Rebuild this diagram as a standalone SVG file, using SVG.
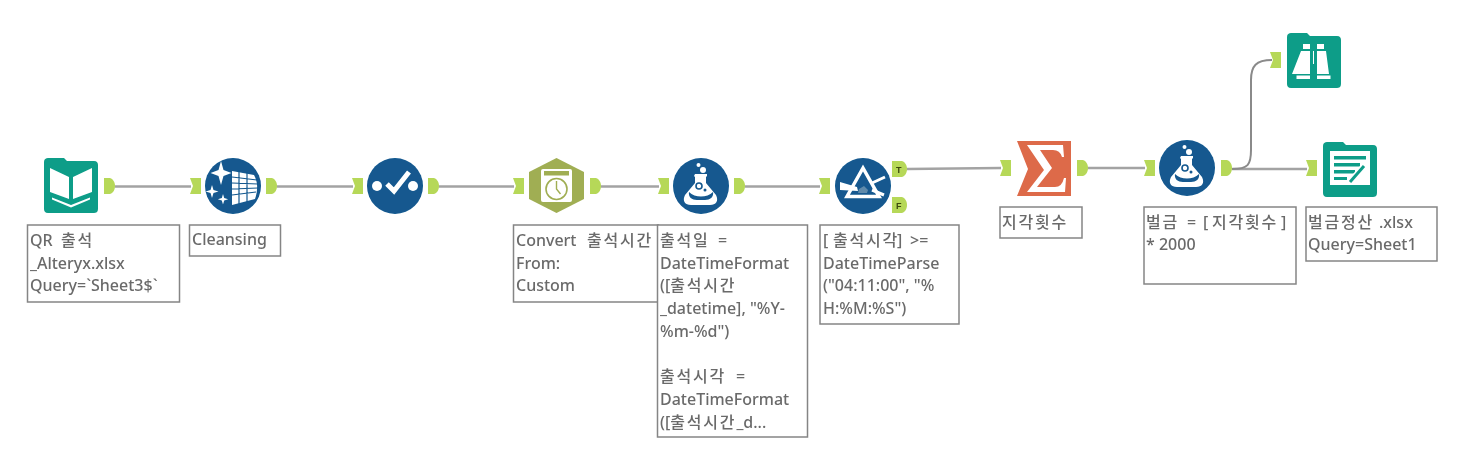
<svg xmlns="http://www.w3.org/2000/svg" width="1477" height="465" viewBox="0 0 1477 465">
<style>
.lb{fill:#fff;stroke:#858585;stroke-width:1.500}
.t{font-family:"Noto Sans","Noto Sans CJK KR",sans-serif;font-size:16px;font-weight:500;fill:#6a6a6a}
.k{letter-spacing:1.800px}
.c{fill:none;stroke:#a3a3a3;stroke-width:2.6}
.c2{fill:none;stroke:#8a8a8a;stroke-width:2}
.a{fill:#b6d858}
.blue{fill:#12588f}
.teal{fill:#0b9d88}
.w{fill:#fff}
.ws{fill:none;stroke:#fff;stroke-width:3}
.af{font-family:"Liberation Sans",sans-serif;font-size:9px;font-weight:700;fill:#3c4a10}
</style>
<defs>
<filter id="soft" filterUnits="userSpaceOnUse" x="0" y="0" width="1477" height="465"><feGaussianBlur stdDeviation="0.4"/></filter>
<path id="o" class="a" d="M0 0h6c3 1 5 4 5 8s-2 7-5 8H0z"/>
<path id="i" class="a" d="M0 0h11v16H0l3-8z"/>
<g id="flask">
<circle class="blue" cx="0" cy="0" r="28"/>
<circle class="w" cx="-2.500" cy="-21" r="2"/><circle class="w" cx="2" cy="-16" r="3"/>
<path class="w" d="M-6-12H6v2l-1 1v6L15 9c3 6 0 10-6 10H-10c-6 0-9-4-6-10L-6-3v-6l-1-1z"/>
<path class="blue" d="M-12 6c6 6 18 6 24 0c1 5-3 8-8 8H-4c-5 0-9-3-8-8z"/>
<circle cx="-2" cy="0" r="3" fill="none" stroke="#12588f" stroke-width="1.600"/><circle class="blue" cx="4" cy="4" r="1.500"/>
</g>
<path id="folder" class="teal" d="M4 0h16l3 3h27c3 0 4 2 4 4v44c0 3-2 4-4 4H4c-3 0-4-2-4-4V4c0-3 2-4 4-4z"/>
</defs>

<g filter="url(#soft)">
<g id="connectors">
<path class="c" d="M115 186.500H191"/>
<path class="c" d="M277 186.500H353"/>
<path class="c" d="M439 186.500H514"/>
<path class="c" d="M601 186.500H659"/>
<path class="c" d="M745 186.500H820"/>
<path class="c" d="M907 169Q950 168.500 1001 168"/>
<path class="c" d="M1088 168H1145"/>
<path class="c" d="M1232 169H1307"/>
<path class="c2" d="M1232 169C1248 169 1251 165 1251 150V80C1251 66 1256 60 1272 60"/>
</g>

<g id="node-input">
<use href="#folder" x="44" y="158"/>
<path class="w" d="M50 168l19 9v22l-19-7zM73 177l19-9v24l-19 7z"/>
<path class="w" d="M52 197.500l19 7.500 19-7.500v2l-19 8-19-8z"/>
<use href="#o" x="104" y="178"/>
<rect class="lb" x="27.500" y="225" width="152" height="77"/>
<text class="t" x="30" y="246">QR <tspan class="k" x="61">출석</tspan></text><text class="t" x="30" y="268.500">_Alteryx.xlsx</text><text class="t" x="30" y="291">Query=`Sheet3$`</text>
</g>

<g id="node-cleansing">
<use href="#i" x="190" y="178"/>
<circle class="blue" cx="233" cy="186" r="28"/>
<path class="w" d="M232 171l22 4c4 7 4 15 1 24l-23 6z"/>
<path fill="none" stroke="#12588f" stroke-width="1.200" d="M232 177l25 3M232 183l26 1M232 189l26-1M232 195l24-3M239 170v34M247 172v30"/>
<path class="w" d="M221 161l2.500 9 8 3-8 3-2.500 9-2.500-9-8-3 8-3zM212 185l1.500 5 5 1.500-5 1.500-1.500 5-1.500-5-5-1.500 5-1.500zM223 194l1.200 4 4 1.200-4 1.200-1.200 4-1.200-4-4-1.200 4-1.200z"/>
<use href="#o" x="266" y="178"/>
<rect class="lb" x="189.500" y="225" width="91" height="31"/>
<text class="t" x="192" y="245">Cleansing</text>
</g>

<g id="node-select">
<use href="#i" x="352" y="178"/>
<circle class="blue" cx="395" cy="186" r="28"/>
<circle class="w" cx="377" cy="186" r="5"/><circle class="w" cx="413" cy="186" r="5"/>
<path class="ws" style="stroke-width:5" d="M387 184l7 7 15-19"/>
<use href="#o" x="428" y="178"/>
</g>

<g id="node-convert">
<use href="#i" x="513" y="178"/>
<path fill="#a0ae53" d="M556.500 158l27.500 14v27l-27.500 14-27.500-14v-27z"/>
<rect class="w" x="541" y="169" width="31" height="33" rx="2"/>
<rect x="544" y="171" width="25" height="4.500" fill="#a0ae53"/>
<circle cx="556.500" cy="189" r="10.500" fill="none" stroke="#a0ae53" stroke-width="1.600"/>
<path fill="none" stroke="#a0ae53" stroke-width="1.400" d="M556.500 181v8l4 5"/>
<use href="#o" x="590" y="178"/>
<rect class="lb" x="513.500" y="225" width="145" height="77"/>
<text class="t" x="516" y="246">Convert <tspan class="k" x="587">출석시간</tspan></text><text class="t" x="516" y="268.500">From:</text><text class="t" x="516" y="291">Custom</text>
</g>

<g id="node-formula1">
<use href="#i" x="658" y="178"/>
<use href="#flask" x="701" y="186"/>
<use href="#o" x="734" y="178"/>
<rect class="lb" x="657.500" y="225" width="150" height="212"/>
<text class="t" x="660" y="246"><tspan class="k">출석일</tspan> <tspan x="718">=</tspan></text><text class="t" x="660" y="268.500">DateTimeFormat</text><text class="t" x="660" y="291">([<tspan class="k">출석시간</tspan></text><text class="t" x="660" y="314">_datetime], "%Y-</text><text class="t" x="660" y="337">%m-%d")</text>
<text class="t" x="660" y="382"><tspan class="k">출석시각</tspan> <tspan x="736">=</tspan></text><text class="t" x="660" y="405">DateTimeFormat</text><text class="t" x="660" y="428">([<tspan class="k">출석시간</tspan>_d...</text>
</g>

<g id="node-filter">
<use href="#i" x="819" y="178"/>
<circle class="blue" cx="863" cy="186" r="28"/>
<path class="w" d="M840 182l17 5 1 4-18-1z"/>
<path class="ws" d="M872 183l13-6M872 190l12 5"/>
<path class="ws" style="stroke-width:3.500" d="M863 168l-16 28.500h32z"/>
<path d="M859 189l5-3 4 4-1 3h-9z" fill="#5f8aab"/>
<path class="a" d="M892 161h10c3 1 5 4 5 8s-2 7-5 8h-10z"/>
<path class="a" d="M892 197h10c3 1 5 4 5 8s-2 7-5 8h-10z"/>
<text class="af" x="896" y="172.500">T</text><text class="af" x="896" y="208.500">F</text>
<rect class="lb" x="820" y="225" width="139" height="99"/>
<text class="t" x="823" y="246">[<tspan class="k" x="833">출석시각</tspan><tspan x="897">]</tspan> <tspan x="910">&gt;=</tspan></text><text class="t" x="823" y="268.500">DateTimeParse</text><text class="t" x="823" y="291">("04:11:00", "%</text><text class="t" x="823" y="314">H:%M:%S")</text>
</g>

<g id="node-summarize">
<use href="#i" x="1000" y="160"/>
<path fill="#dd6a4a" d="M1017 141h54v55h-54l11-27z"/>
<path class="w" d="M1027 145h36l1 12h-2q-2-7-9-7h-13l12 18-15 19h18q7 0 9-9h2l-1 14h-38l17-22z"/>
<use href="#o" x="1077" y="160"/>
<rect class="lb" x="1000" y="207" width="82" height="31"/>
<text class="t" x="1002" y="228"><tspan class="k">지각횟수</tspan></text>
</g>

<g id="node-formula2">
<use href="#i" x="1144" y="160"/>
<use href="#flask" x="1187" y="168"/>
<use href="#o" x="1221" y="160"/>
<rect class="lb" x="1144" y="207" width="152" height="77"/>
<text class="t" x="1146" y="228"><tspan class="k">벌금</tspan> <tspan x="1187">=</tspan> <tspan x="1203">[</tspan><tspan class="k" x="1212">지각횟수</tspan><tspan x="1281">]</tspan></text><text class="t" x="1146" y="250">* 2000</text>
</g>

<g id="node-browse">
<use href="#i" x="1270" y="52"/>
<use href="#folder" x="1287" y="33"/>
<path class="w" d="M1303 44h7v5h-7zM1317 44h7v5h-7z"/>
<path class="w" d="M1301 51h9v13h3v-13h1v13h3v-13h9l3 23h-37z"/>
<rect x="1310" y="64" width="7" height="16" fill="#0b9d88"/>
<rect x="1296.500" y="75.500" width="13.500" height="3.500" fill="#fff"/>
<rect x="1317" y="75.500" width="13.500" height="3.500" fill="#fff"/>
</g>

<g id="node-output">
<use href="#i" x="1306" y="160"/>
<use href="#folder" x="1323" y="142"/>
<rect class="w" x="1330" y="151" width="40" height="34"/>
<path fill="#0b9d88" d="M1334 156h32v3.500h-32zM1334 163h26v3.500h-26zM1334 170h21v3.500h-21zM1334 177h13v3h-13z"/>
<path fill="none" stroke="#fff" stroke-width="6" d="M1350 182l14-16"/>
<path fill="none" stroke="#0b9d88" stroke-width="3" d="M1350 182l14-16"/>
<rect class="lb" x="1306" y="207" width="131" height="54"/>
<text class="t" x="1308" y="228"><tspan class="k">벌금정산</tspan><tspan x="1379">.xlsx</tspan></text><text class="t" x="1308" y="250">Query=Sheet1</text>
</g>
</g>
</svg>
